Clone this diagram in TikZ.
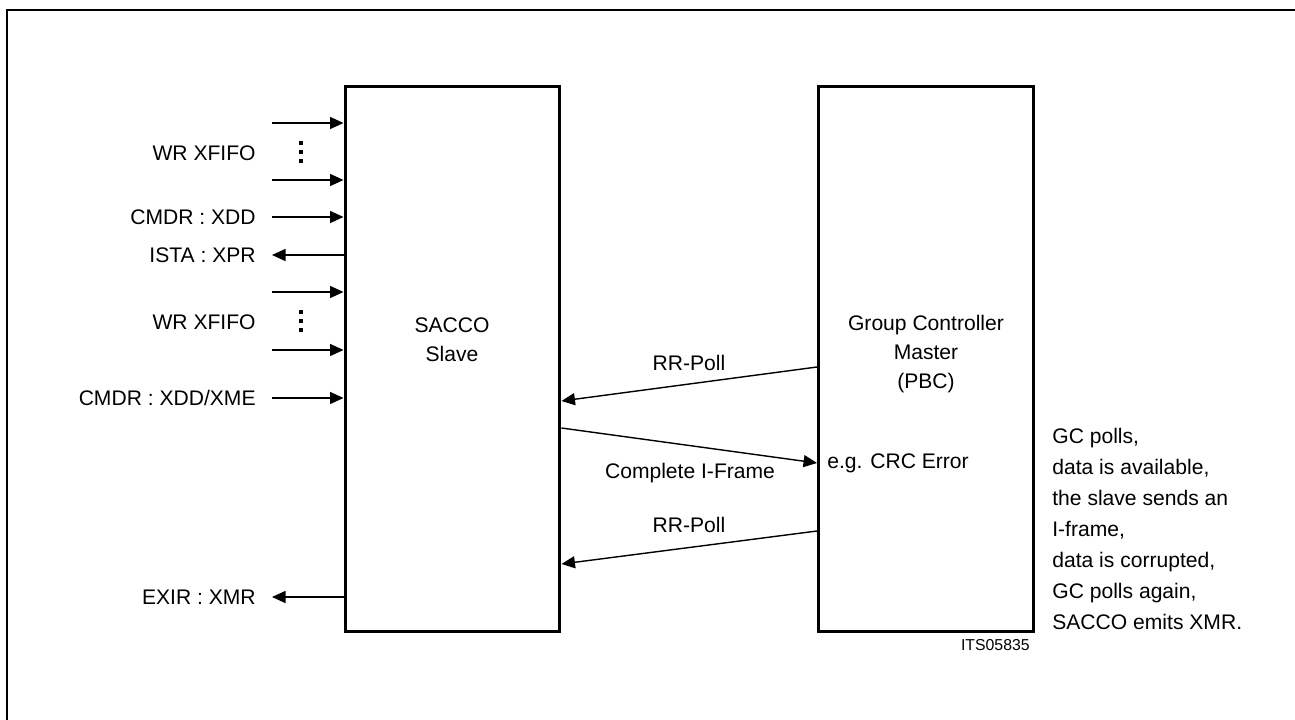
\documentclass[tikz,border=0pt]{standalone}
\usepackage{fontspec}
\setmainfont{Liberation Sans}
\usetikzlibrary{arrows.meta,positioning,calc}

\begin{document}
\begin{tikzpicture}[x=0.02cm,y=-0.02cm,
  blk/.style={rectangle,draw,line width=1.7pt,minimum width=4.3cm,
              minimum height=10.92cm,inner sep=0pt},
  lbl/.style={font=\fontsize{12}{16.5}\selectfont,inner sep=0pt},
  vdotline/.style={line width=0.09cm,dash pattern=on 0.08cm off 0.1cm},
  arrow/.style={-{Triangle[length=0.27cm,width=0.24cm]},line width=0.8pt}]
\useasboundingbox (0,0) rectangle (1295,720);
\draw[line width=1.3pt] (7,720) -- (7,10) -- (1295,10);
\node[blk] (slave)  at (452.5,359) {};
\node[blk] (master) at (926,359) {};
\node[lbl,align=center] (slavetxt)  at (452,340) {SACCO\\Slave};
\node[lbl,align=center] (mastertxt) at (926,354) {Group Controller\\Master\\(PBC)};
% left side signals
\coordinate (w1) at (272,123);
\coordinate (w2) at (272,180);
\coordinate (xdd) at (272,217);
\coordinate (ista) at (272,255);
\coordinate (w3) at (272,292);
\coordinate (w4) at (272,350);
\coordinate (xme) at (272,398);
\coordinate (exir) at (272,597);
\draw[arrow] (w1) -- (w1 -| slave.west);
\draw[arrow] (w2) -- (w2 -| slave.west);
\draw[arrow] (xdd) -- (xdd -| slave.west);
\draw[arrow] (ista -| slave.west) -- (ista);
\draw[arrow] (w3) -- (w3 -| slave.west);
\draw[arrow] (w4) -- (w4 -| slave.west);
\draw[arrow] (xme) -- (xme -| slave.west);
\draw[arrow] (exir -| slave.west) -- (exir);
\node[lbl,anchor=east] (wr1)   at (256,153) {WR XFIFO};
\draw[vdotline] (301,141) -- (301,163);
\node[lbl,anchor=east] (xddl)  at (256,217) {CMDR : XDD};
\node[lbl,anchor=east] (istal) at (256,255) {ISTA : XPR};
\node[lbl,anchor=east] (wr2)   at (256,322) {WR XFIFO};
\draw[vdotline] (301,310) -- (301,332);
\node[lbl,anchor=east] (xmel)  at (256,398) {CMDR : XDD/XME};
\node[lbl,anchor=east] (exirl) at (256,597) {EXIR : XMR};
% frames between slave and master
\draw[arrow] (master.west |- 0,367) -- (slave.east |- 0,401);
\draw[arrow] (slave.east |- 0,428) -- (master.west |- 0,463);
\draw[arrow] (master.west |- 0,531) -- (slave.east |- 0,564);
\node[lbl] (poll1)  at (689,363) {RR-Poll};
\node[lbl] (iframe) at (690,473) {Complete I-Frame};
\node[lbl,anchor=west] (crc) at (827,463) {e.g. CRC Error};
\node[lbl] (poll2)  at (689,525) {RR-Poll};
\node[lbl,anchor=north west,align=left,font=\fontsize{12}{17.6}\selectfont] (note) at (1052,428)
  {GC polls,\\data is available,\\the slave sends an\\I-frame,\\data is corrupted,\\GC polls again,\\SACCO emits XMR.};
\node[anchor=north east,inner sep=0pt,font=\fontsize{9}{10}\selectfont] (its) at (1030,639) {ITS05835};
\end{tikzpicture}
\end{document}
